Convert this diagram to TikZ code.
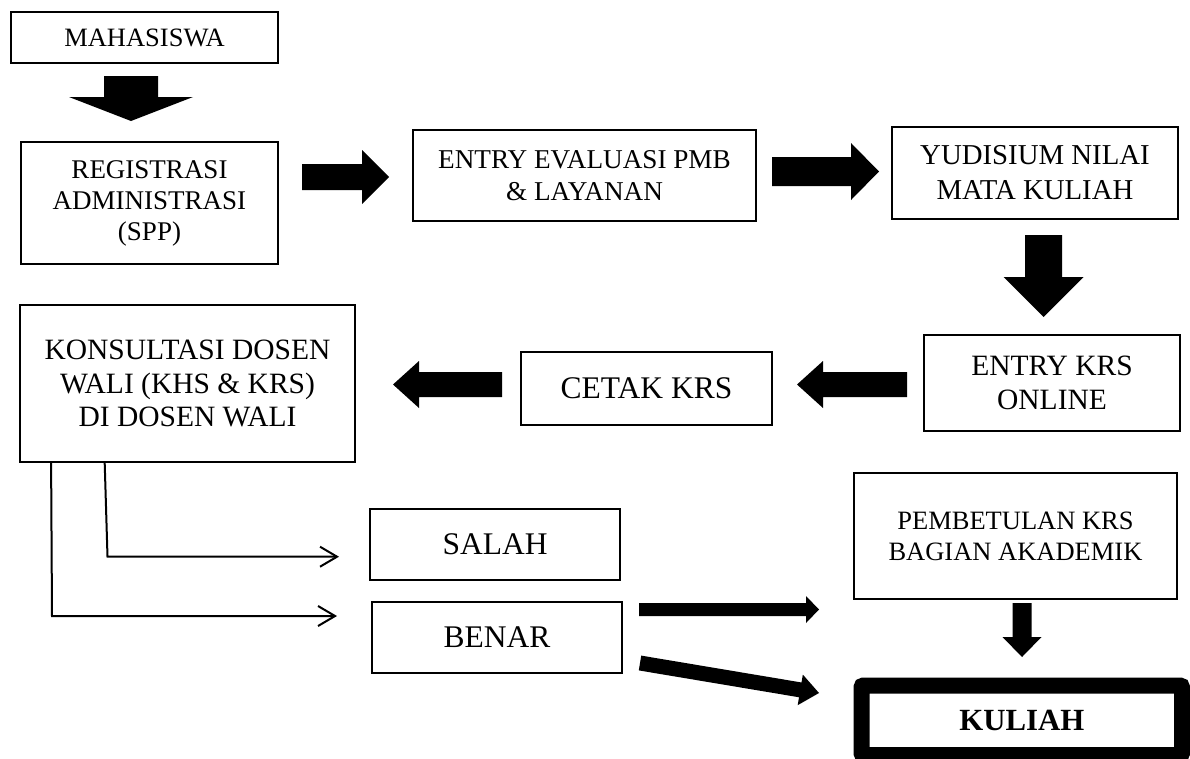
\documentclass[tikz,border=0pt]{standalone}
\usepackage{fontspec}
\setmainfont{Liberation Serif}
\usetikzlibrary{calc,arrows.meta}
\newcommand\blockarrow[5]{%
  \coordinate (ba-h) at ($(#2)!#5!(#1)$);
  \fill[black] ($(#1)!#3!90:(#2)$) -- ($(ba-h)!#3!-90:(#1)$) -- ($(ba-h)!#4!-90:(#1)$) -- (#2)
    -- ($(ba-h)!#4!90:(#1)$) -- ($(ba-h)!#3!90:(#1)$) -- ($(#1)!#3!-90:(#2)$) -- cycle;
}
\tikzset{
  box/.style={draw, line width=1.8pt, align=center, inner sep=0pt},
  thinarrow/.style={draw, line width=2pt, -{Straight Barb[length=17pt,width=20pt]}},
}
\begin{document}
\begin{tikzpicture}[x=1pt,y=-1pt]
\fill[white] (0,0) rectangle (1190,758);
\useasboundingbox (0,0) rectangle (1190,758);

% boxes
\node[box, minimum width=267pt, minimum height=51pt, font=\fontsize{26.5pt}{30pt}\selectfont] (mhs) at (144.5,37.5) {MAHASISWA};
\node[box, minimum width=257pt, minimum height=122pt, font=\fontsize{27pt}{31pt}\selectfont] (reg) at (149.5,203) {REGISTRASI\\ADMINISTRASI\\(SPP)};
\node[box, minimum width=343pt, minimum height=91pt, font=\fontsize{27.2pt}{31.6pt}\selectfont] (eval) at (584.5,175.5) {ENTRY EVALUASI PMB\\\& LAYANAN};
\node[box, minimum width=286pt, minimum height=92pt, font=\fontsize{28.8pt}{35pt}\selectfont] (yud) at (1035,173) {YUDISIUM NILAI\\MATA KULIAH};
\node[box, minimum width=256pt, minimum height=96pt, font=\fontsize{29.5pt}{34pt}\selectfont] (ekrs) at (1052,383) {ENTRY KRS\\ONLINE};
\node[box, minimum width=251pt, minimum height=73pt, font=\fontsize{31.5pt}{36pt}\selectfont] (cetak) at (646.5,388.5) {CETAK KRS};
\node[box, minimum width=335pt, minimum height=157pt, font=\fontsize{29.5pt}{33.5pt}\selectfont] (kons) at (187.5,383.5) {KONSULTASI DOSEN\\WALI (KHS \& KRS)\\DI DOSEN WALI};
\node[box, minimum width=250pt, minimum height=71pt, font=\fontsize{31.5pt}{36pt}\selectfont] (salah) at (495,544.5) {SALAH};
\node[box, minimum width=250pt, minimum height=71pt, font=\fontsize{31.5pt}{36pt}\selectfont] (benar) at (497,637.5) {BENAR};
\node[box, minimum width=323pt, minimum height=126pt, font=\fontsize{26.5pt}{31pt}\selectfont] (pemb) at (1015.5,536) {PEMBETULAN KRS\\BAGIAN AKADEMIK};
\node[draw, line width=16pt, rounded corners=2pt, inner sep=0pt, minimum width=320.5pt, minimum height=69.5pt, font=\fontsize{30.8pt}{36pt}\selectfont\bfseries] (kuliah) at (1021.75,720.25) {KULIAH};

% block arrow end points
\coordinate (a1s) at (131,76);      \coordinate (a1e) at (131,121);
\coordinate (a2s) at (302,177);     \coordinate (a2e) at (389,177);
\coordinate (a3s) at (772,171.5);   \coordinate (a3e) at (879,171.5);
\coordinate (a4s) at (1043.5,235);  \coordinate (a4e) at (1043.5,317);
\coordinate (a5s) at (907,384.5);   \coordinate (a5e) at (797,384.5);
\coordinate (a6s) at (502,384.5);   \coordinate (a6e) at (393,384.5);
\coordinate (a7s) at (639,609.5);   \coordinate (a7e) at (819,609.5);
\coordinate (a8s) at (640,663);     \coordinate (a8e) at (819,693);
\coordinate (a9s) at (1022,603);    \coordinate (a9e) at (1022,657);

\blockarrow{a1s}{a1e}{27pt}{62pt}{24pt}
\blockarrow{a2s}{a2e}{13pt}{27pt}{27pt}
\blockarrow{a3s}{a3e}{14.5pt}{28.5pt}{28pt}
\blockarrow{a4s}{a4e}{18.5pt}{40pt}{40pt}
\blockarrow{a5s}{a5e}{12.5pt}{23.5pt}{26pt}
\blockarrow{a6s}{a6e}{12.5pt}{23.5pt}{26pt}
\blockarrow{a7s}{a7e}{6.5pt}{13.5pt}{13pt}
\blockarrow{a8s}{a8e}{7.5pt}{15.5pt}{19pt}
\blockarrow{a9s}{a9e}{9.5pt}{19.5pt}{20pt}

% thin connectors
\coordinate (t1) at (339,556.7);
\coordinate (t2) at (337,616);
\draw[thinarrow] ([xshift=85.6pt]kons.south west) -- (107.5,556.7) -- (t1);
\draw[thinarrow] ([xshift=32pt]kons.south west) -- (52,616) -- (t2);
\end{tikzpicture}
\end{document}
